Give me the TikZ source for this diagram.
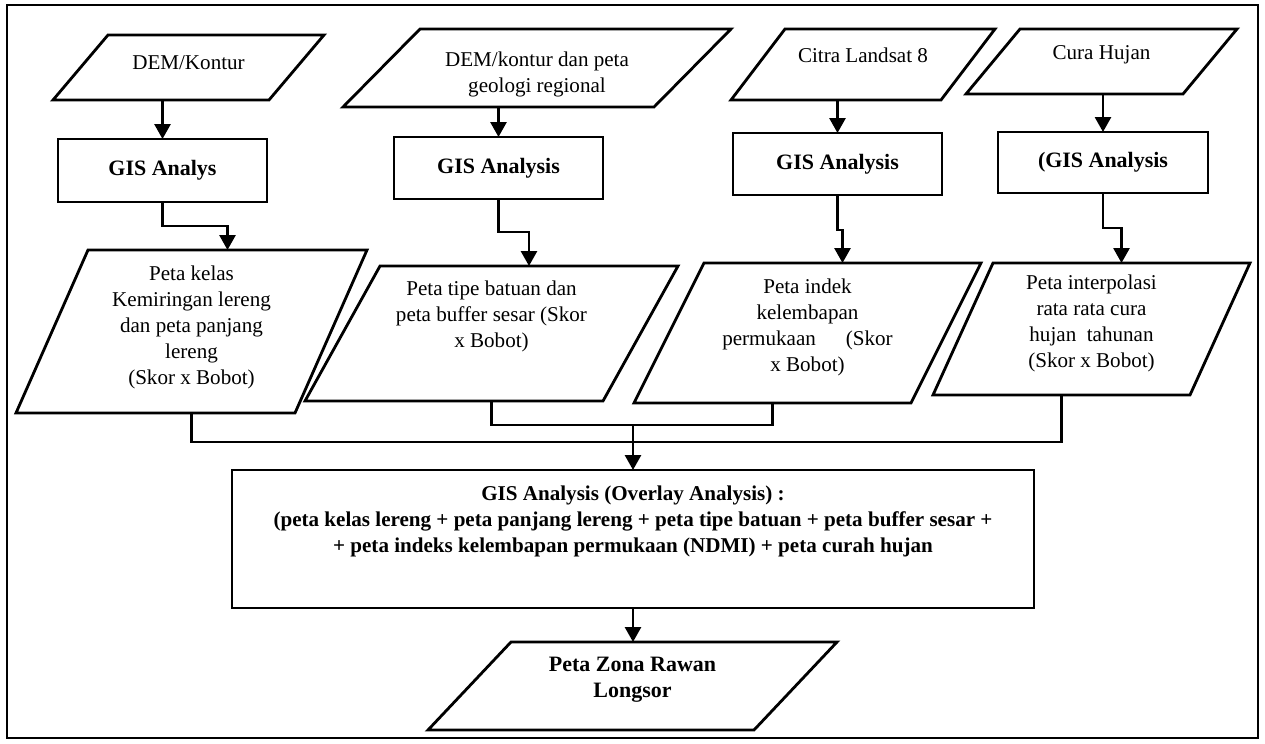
\documentclass[tikz,border=0pt]{standalone}
\usepackage{fontspec}
\setmainfont{Liberation Serif}
\usetikzlibrary{arrows.meta,positioning,calc}

\newcommand{\pu}{0.02cm}
% parallelogram outline drawn over an empty box node
\newcommand{\paral}[2]{%
  \draw[shapeline] ([xshift=#2*\pu]#1.north west) -- (#1.north east)
    -- ([xshift=-#2*\pu]#1.south east) -- (#1.south west) -- cycle;}

\begin{document}
\begin{tikzpicture}[x=\pu, y=-\pu,
  every node/.style={font=\fontsize{12}{14.8}\selectfont},
  pbox/.style 2 args={minimum width=#1*\pu, minimum height=#2*\pu, inner sep=0pt, outer sep=0pt},
  gisbox/.style={draw, line width=1.6pt, font=\fontsize{12.5}{14.8}\selectfont\bfseries},
  txt/.style={align=center, inner sep=0pt},
  shapeline/.style={line width=1.6pt, line join=miter},
  flow/.style={line width=1.6pt, -{Triangle[length=0.3cm, width=0.32cm]}}]
\useasboundingbox (0,0) rectangle (1265,744);
\draw[line width=1pt] (7,5) rectangle (1258,738);

% input data
\node[pbox={271}{65}] (dem) at (188.5,67.5) {};
\paral{dem}{55}
\node[txt] (demt) at ([yshift=-28*\pu]dem.north) {DEM/Kontur};

\node[pbox={388}{78}] (geo) at (537,68) {};
\paral{geo}{77}
\node[txt] (geot) at ([yshift=-45*\pu]geo.north) {DEM/kontur dan peta\\geologi regional};

\node[pbox={264}{71}] (lst) at (863,64.5) {};
\paral{lst}{54}
\node[txt] (lstt) at ([yshift=-26*\pu]lst.north) {Citra Landsat 8};

\node[pbox={271}{65}] (rain) at (1101.5,61.5) {};
\paral{rain}{54}
\node[txt] (raint) at ([yshift=-26*\pu]rain.north) {Cura Hujan};

% processing
\node[gisbox, pbox={209}{63}] (gis1) at (162.5,170.5) {GIS Analys};
\node[gisbox, pbox={209}{62}] (gis2) at (498.5,168) {GIS Analysis};
\node[gisbox, pbox={209}{62}] (gis3) at (837.5,164) {GIS Analysis};
\node[gisbox, pbox={210}{61}] (gis4) at (1103,162.5) {(GIS Analysis};

% thematic maps
\node[pbox={351}{163}] (kls) at (191.5,331.5) {};
\paral{kls}{72}
\node[txt] (klst) at ([yshift=-77.5*\pu]kls.north) {Peta kelas\\Kemiringan lereng\\dan peta panjang\\lereng\\(Skor x Bobot)};

\node[pbox={373}{135}] (btn) at (491.5,333.5) {};
\paral{btn}{75}
\node[txt] (btnt) at ([yshift=-50.5*\pu]btn.north) {Peta tipe batuan dan\\peta buffer sesar (Skor\\x Bobot)};

\node[pbox={347}{140}] (ndmi) at (807.5,333) {};
\paral{ndmi}{70}
\node[txt] (ndmit) at ([yshift=-64.5*\pu]ndmi.north) {Peta indek\\kelembapan\\permukaan\hspace{17pt}(Skor\\x Bobot)};

\node[pbox={317}{132}] (chj) at (1091.5,329) {};
\paral{chj}{60}
\node[txt] (chjt) at ([yshift=-60*\pu]chj.north) {Peta interpolasi\\rata rata cura\\hujan\ \ tahunan\\(Skor x Bobot)};

% overlay and result
\node[draw, shapeline, pbox={802}{138}] (overlay) at (633,539) {};
\node[txt, font=\fontsize{12}{15}\selectfont\bfseries] (overlayt) at ([yshift=-51.5*\pu]overlay.north)
  {GIS Analysis (Overlay Analysis) :\\(peta kelas lereng + peta panjang lereng + peta tipe batuan + peta buffer sesar +\\+ peta indeks kelembapan permukaan (NDMI) + peta curah hujan};

\node[pbox={409}{88}] (final) at (632.5,686) {};
\paral{final}{83}
\node[txt, font=\fontsize{12.5}{15}\selectfont\bfseries] (finalt) at ([yshift=-38*\pu]final.north) {Peta Zona Rawan\\Longsor};

\coordinate (j1) at (633,442);
\coordinate (j2) at (633,425);

% arrows
\draw[flow] (gis1.north |- dem.south) -- (gis1.north);
\draw[flow] (gis2.north |- geo.south) -- (gis2.north);
\draw[flow] (gis3.north |- lst.south) -- (gis3.north);
\draw[flow] (gis4.north |- rain.south) -- (gis4.north);

\draw[flow] (gis1.south) -- ++(0,24) -| ([xshift=36*\pu]kls.north);
\draw[flow] (gis2.south) -- ++(0,33) -| ([xshift=37.5*\pu]btn.north);
\draw[flow] (gis3.south) -- ++(0,35) -| ([xshift=35*\pu]ndmi.north);
\draw[flow] (gis4.south) -- ++(0,35) -| ([xshift=30*\pu]chj.north);

\draw[shapeline] (kls.south) |- (j1) -| ([xshift=-30*\pu]chj.south);
\draw[shapeline] (btn.south) |- (j2) -| ([xshift=-35*\pu]ndmi.south);
\draw[flow] (j2) -- (overlay.north);
\draw[flow] (overlay.south) -- (overlay.south |- final.north);
\end{tikzpicture}
\end{document}
